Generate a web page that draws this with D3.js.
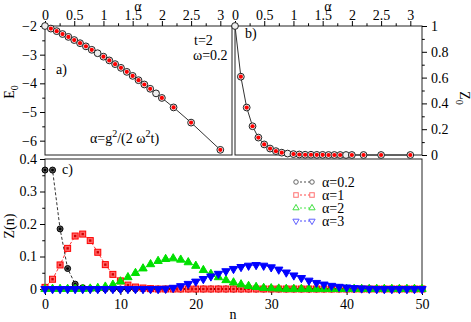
<!DOCTYPE html>
<html>
<head>
<meta charset="utf-8">
<script src="https://cdn.jsdelivr.net/npm/d3@7"></script>
<style>
body { margin: 0; background: #fff; }
svg, svg text { font-family: "Liberation Serif", "DejaVu Serif", "Times New Roman", Times, serif; }
.axis text { font-size: 14px; fill: #000; }
.axis line { stroke: #000; }
</style>
</head>
<body>
<svg id="chart" width="471" height="322" font-family="Liberation Serif, DejaVu Serif, serif"></svg>
<script>
// panels a) and b): ground state energy and quasiparticle weight vs alpha
const alphaVals = [0, 0.1, 0.2, 0.3, 0.4, 0.5, 0.6, 0.7, 0.8, 0.9, 1.0, 1.1, 1.2, 1.3, 1.4, 1.5, 1.6, 1.7, 1.8, 1.9, 2.0, 2.2, 2.5, 3.0];
const groundE0 = [-2.00, -2.09, -2.18, -2.28, -2.38, -2.49, -2.60, -2.71, -2.83, -2.95, -3.07, -3.20, -3.33, -3.46, -3.60, -3.74, -3.89, -4.04, -4.19, -4.35, -4.51, -4.84, -5.37, -6.32];
const weightZ0 = [1, 0.607, 0.368, 0.223, 0.135, 0.082, 0.050, 0.030, 0.018, 0.011, 0.007, 0.004, 0.002, 0.002, 0.001, 0.001, 0, 0, 0, 0, 0, 0, 0, 0];
const noRedDot = [0, 0.9, 1.9];

// panel c): phonon distribution Z(n)
const nVals = d3.range(0, 51);
const zAlpha02 = [0.366, 0.366, 0.185, 0.063, 0.015, 0.004, 0.001, 0, 0, 0,
  0, 0, 0, 0, 0, 0, 0, 0, 0, 0, 0, 0, 0, 0, 0, 0, 0, 0, 0, 0,
  0, 0, 0, 0, 0, 0, 0, 0, 0, 0, 0, 0, 0, 0, 0, 0, 0, 0, 0, 0, 0];
const zAlpha1 = [0.005, 0.030, 0.074, 0.125, 0.163, 0.169, 0.149, 0.113, 0.075, 0.045,
  0.025, 0.012, 0.006, 0.003, 0.001, 0, 0, 0, 0, 0, 0, 0, 0, 0, 0, 0, 0, 0, 0, 0,
  0, 0, 0, 0, 0, 0, 0, 0, 0, 0, 0, 0, 0, 0, 0, 0, 0, 0, 0, 0, 0];
const zAlpha2 = [0, 0, 0, 0, 0, 0, 0.001, 0.003, 0.007, 0.013,
  0.023, 0.036, 0.049, 0.063, 0.076, 0.086, 0.092, 0.094, 0.090, 0.082,
  0.071, 0.058, 0.046, 0.036, 0.027, 0.020, 0.014, 0.009, 0.006, 0.003,
  0.002, 0.001, 0, 0, 0, 0, 0, 0, 0, 0, 0, 0, 0, 0, 0, 0, 0, 0, 0, 0, 0];
const zAlpha3 = [0, 0, 0, 0, 0, 0, 0, 0, 0, 0,
  0, 0, 0, 0, 0, 0, 0.001, 0.004, 0.009, 0.016,
  0.023, 0.031, 0.039, 0.047, 0.055, 0.062, 0.068, 0.072, 0.074, 0.072,
  0.067, 0.060, 0.051, 0.042, 0.034, 0.026, 0.019, 0.014, 0.010, 0.007,
  0.005, 0.003, 0.002, 0.001, 0, 0, 0, 0, 0, 0, 0];
const legendLabels = ["α=0.2", "α=1", "α=2", "α=3"];

const FONT = "Liberation Serif, DejaVu Serif, serif";
const svg = d3.select("#chart");
const fmt = d3.format("~g");

// scales
const xa = d3.scaleLinear([0, 3.2], [45, 232]);
const ya = d3.scaleLinear([-6.5, -2], [155, 26]);
const xb = d3.scaleLinear([0, 3.2], [235, 422]);
const yb = d3.scaleLinear([0, 1], [155, 26]);
const xc = d3.scaleLinear([0, 50], [45, 422]);
const yc = d3.scaleLinear([0, 0.4], [289, 159]);

// helper: major + minor ticks, no domain line
function drawAxis(axisFn, scale, majors, minors, tx, ty, size, pad) {
  const g = svg.append("g").attr("class", "axis").attr("transform", `translate(${tx},${ty})`);
  g.call(axisFn(scale).tickValues(majors).tickFormat(fmt).tickSize(size).tickPadding(pad));
  g.attr("font-family", FONT).attr("font-size", 14);
  g.select(".domain").remove();
  const m = svg.append("g").attr("class", "axis").attr("transform", `translate(${tx},${ty})`);
  m.call(axisFn(scale).tickValues(minors).tickFormat("").tickSize(size * 0.55));
  m.select(".domain").remove();
  return g;
}

// frames
[[45, 26, 187, 129], [235, 26, 187, 129], [45, 159, 377, 130]].forEach(f => {
  svg.append("rect")
    .attr("x", f[0]).attr("y", f[1]).attr("width", f[2]).attr("height", f[3])
    .attr("fill", "none").attr("stroke", "#222").attr("stroke-width", 1);
});

// axes panel a
drawAxis(d3.axisTop, xa, [0, 0.5, 1, 1.5, 2, 2.5, 3], [0.25, 0.75, 1.25, 1.75, 2.25, 2.75], 0, 26, 5, 1);
drawAxis(d3.axisLeft, ya, [-2, -3, -4, -5, -6], [-2.5, -3.5, -4.5, -5.5], 45, 0, 5, 3);
// axes panel b
drawAxis(d3.axisTop, xb, [0, 0.5, 1, 1.5, 2, 2.5, 3], [0.25, 0.75, 1.25, 1.75, 2.25, 2.75], 0, 26, 5, 1);
drawAxis(d3.axisRight, yb, [0, 0.2, 0.4, 0.6, 0.8, 1], [0.1, 0.3, 0.5, 0.7, 0.9], 422, 0, 5, 4);
// axes panel c
drawAxis(d3.axisLeft, yc, [0, 0.1, 0.2, 0.3, 0.4], [0.05, 0.15, 0.25, 0.35], 45, 0, 5, 3);
drawAxis(d3.axisBottom, xc, [0, 10, 20, 30, 40, 50], [5, 15, 25, 35, 45], 0, 289, 6, 4);

// zero line panel c
svg.append("line")
  .attr("x1", xc(0)).attr("x2", xc(50)).attr("y1", yc(0)).attr("y2", yc(0))
  .attr("stroke", "#000").attr("stroke-width", 1.6);

// panel a / b data
const rowsAB = alphaVals.map((a, i) => ({ a: a, e: groundE0[i], z: weightZ0[i] }));
const redRows = rowsAB.filter(d => !noRedDot.includes(d.a));

function drawAB(xs, ys, key) {
  svg.append("path")
    .datum(rowsAB)
    .attr("fill", "none").attr("stroke", "#333").attr("stroke-width", 1)
    .attr("d", d3.line().x(d => xs(d.a)).y(d => ys(d[key])));
  svg.append("g").selectAll("circle")
    .data(rowsAB).join("circle")
    .attr("cx", d => xs(d.a)).attr("cy", d => ys(d[key])).attr("r", 3.4)
    .attr("fill", "#eee").attr("stroke", "#222").attr("stroke-width", 1);
  svg.append("g").selectAll("circle")
    .data(redRows).join("circle")
    .attr("cx", d => xs(d.a)).attr("cy", d => ys(d[key])).attr("r", 2.1)
    .attr("fill", "#ff0000");
}
drawAB(xa, ya, "e");
drawAB(xb, yb, "z");

// panel c series
const seriesC = [
  { vals: zAlpha02, color: "#000", shape: "circle" },
  { vals: zAlpha1, color: "#ff0000", shape: "square" },
  { vals: zAlpha2, color: "#00e000", shape: "up" },
  { vals: zAlpha3, color: "#0000ff", shape: "down" }
];

function marker(g, shape, color, x, y, hollow, s) {
  if (shape === "circle") {
    g.append("circle").attr("cx", x).attr("cy", y).attr("r", 3 * s)
      .attr("fill", hollow ? "#fff" : "#555").attr("stroke", hollow ? "#666" : "#000").attr("stroke-width", 1);
    if (!hollow) g.append("circle").attr("cx", x).attr("cy", y).attr("r", 1.4).attr("fill", "#000");
  } else if (shape === "square") {
    const h = 3 * s;
    g.append("rect").attr("x", x - h).attr("y", y - h).attr("width", 2 * h).attr("height", 2 * h)
      .attr("fill", hollow ? "#fff" : "#ff6a6a").attr("stroke", hollow ? "#ff7070" : "#ff0000").attr("stroke-width", 1);
    if (!hollow) g.append("rect").attr("x", x - 1.2).attr("y", y - 1.2).attr("width", 2.4).attr("height", 2.4).attr("fill", "#d00000");
  } else {
    g.append("path")
      .attr("d", d3.symbol(d3.symbolTriangle, 30 * s * s)())
      .attr("transform", `translate(${x},${y})` + (shape === "down" ? " rotate(180)" : ""))
      .attr("fill", hollow ? "#fff" : color).attr("stroke", hollow ? (shape === "down" ? "#6060ff" : "#40e040") : color)
      .attr("stroke-width", 1);
  }
}

seriesC.forEach(sr => {
  svg.append("path")
    .datum(sr.vals)
    .attr("fill", "none").attr("stroke", sr.color).attr("stroke-width", 1)
    .attr("stroke-dasharray", "3,2").attr("opacity", 0.8)
    .attr("d", d3.line().x((d, i) => xc(nVals[i])).y(d => yc(d)));
  const g = svg.append("g");
  sr.vals.forEach((v, i) => marker(g, sr.shape, sr.color, xc(nVals[i]), yc(v), false, 1));
});

// legend
const legend = svg.append("g");
legendLabels.forEach((lab, i) => {
  const y = 182 + i * 13;
  const sr = seriesC[i];
  legend.append("line")
    .attr("x1", 296).attr("x2", 312).attr("y1", y).attr("y2", y)
    .attr("stroke", sr.color).attr("stroke-width", 1).attr("stroke-dasharray", "2,2").attr("opacity", 0.7);
  marker(legend, sr.shape, sr.color, 296, y, true, 0.75);
  marker(legend, sr.shape, sr.color, 312, y, true, 0.75);
  legend.append("text").attr("x", 322).attr("y", y + 4.5)
    .attr("font-family", FONT).attr("font-size", 14).text(lab);
});

// texts
function label(x, y, parts, opts) {
  const t = svg.append("text").attr("x", x).attr("y", y)
    .attr("font-family", FONT).attr("font-size", 14);
  if (opts && opts.rotate) t.attr("transform", `rotate(${opts.rotate},${x},${y})`).attr("text-anchor", "middle");
  if (opts && opts.anchor) t.attr("text-anchor", opts.anchor);
  parts.forEach(p => {
    const s = t.append("tspan").text(p[0]);
    if (p[1] === "sub") s.attr("font-size", 10).attr("dy", 4);
    if (p[1] === "sup") s.attr("font-size", 10).attr("dy", -6);
    if (p[1] === "back") s.attr("dy", p[2]);
  });
  return t;
}
label(138, 10.5, [["α"]], { anchor: "middle" });
label(328, 10.5, [["α"]], { anchor: "middle" });
label(14, 92, [["E"], ["0", "sub"]], { rotate: -90 });
label(460, 98, [["Z"], ["0", "sub"]], { rotate: 90 });
label(194, 45, [["t=2"]]);
label(193, 60, [["ω=0.2"]]);
label(56, 74, [["a)"]]);
label(90, 143, [["α=g"], ["2", "sup"], ["/(2 ω", "back", 6], ["2", "sup"], ["t)", "back", 6]]);
label(245, 38, [["b)"]]);
label(62, 174, [["c)"]]);
label(14, 226, [["Z(n)"]], { rotate: -90 });
label(233, 319, [["n"]], { anchor: "middle" });
</script>
</body>
</html>
